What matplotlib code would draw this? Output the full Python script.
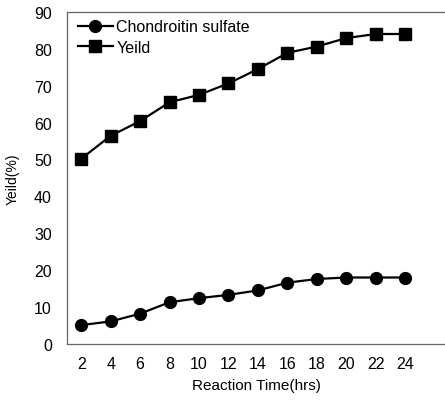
import matplotlib.pyplot as plt

plt.rcParams['font.family'] = ['Liberation Sans', 'DejaVu Sans']

hours = [2, 4, 6, 8, 10, 12, 14, 16, 18, 20, 22, 24]
chondroitin = [5.1, 6.1, 8.2, 11.3, 12.4, 13.3, 14.5, 16.6, 17.6, 18.0, 18.0, 18.0]
yeild = [50.2, 56.4, 60.4, 65.5, 67.5, 70.6, 74.5, 78.9, 80.6, 82.9, 84.0, 84.0]
yticks = [0, 10, 20, 30, 40, 50, 60, 70, 80, 90]

fig = plt.figure(figsize=(4.45, 4.02), dpi=100)
ax = fig.add_axes([0.151, 0.142, 0.849, 0.826])

ax.plot(hours, chondroitin, color="black", lw=1.6, marker="o", ms=8.5,
        label="Chondroitin sulfate")
ax.plot(hours, yeild, color="black", lw=1.6, marker="s", ms=8,
        label="Yeild")

ax.set_xlim(1.05, 26.7)
ax.set_ylim(0, 90)
ax.set_xticks(hours)
ax.set_yticks(yticks)
ax.tick_params(length=0, labelsize=11.5, pad=9)
ax.tick_params(axis="y", pad=11)

for side in ["left", "top", "bottom"]:
    ax.spines[side].set_linestyle((0, (1, 1)))
    ax.spines[side].set_linewidth(0.9)
    ax.spines[side].set_color("#666666")
ax.spines["right"].set_visible(False)

ax.set_xlabel("Reaction Time(hrs)", fontsize=11, labelpad=5)
ax.set_ylabel("Yeild(%)", fontsize=10, labelpad=10)

ax.legend(loc="upper left", bbox_to_anchor=(0.175, 0.95),
          bbox_transform=fig.transFigure, frameon=False, fontsize=11.5,
          handlelength=2.2, handletextpad=0.2, labelspacing=0.35,
          borderaxespad=0, borderpad=0)

fig.savefig("out.png", dpi=100)
